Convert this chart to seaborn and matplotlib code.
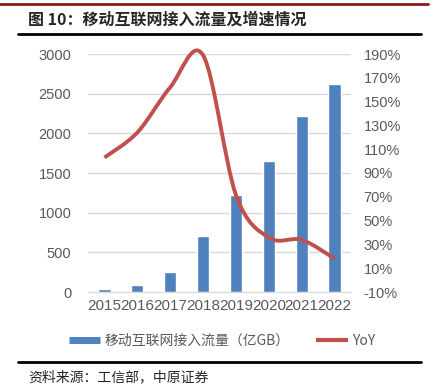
"""
Mobile internet access traffic (亿GB) with YoY growth, 2015-2022.
Bars on the left axis, smoothed YoY line on the right axis.
"""

import numpy as np
import pandas as pd
import matplotlib
matplotlib.use('Agg')
import matplotlib.pyplot as plt
from matplotlib.path import Path
from matplotlib.patches import PathPatch
from matplotlib.lines import Line2D
import seaborn as sns

years = ['2015', '2016', '2017', '2018', '2019', '2020', '2021', '2022']
traffic = [41.9, 93.6, 246, 711, 1220, 1656, 2216, 2618]      # 亿GB
yoy = [103.0, 124.0, 162.0, 189.0, 71.6, 35.7, 33.8, 18.1]    # %

left_ticks = [0, 500, 1000, 1500, 2000, 2500, 3000]
right_ticks = list(range(-10, 191, 20))

BAR_COLOR = '#4F81BD'
LINE_COLOR = '#C0504D'
TICK_COLOR = '#595959'
GRID_COLOR = '#D9D9D9'

sns.set_style('white')
plt.rcParams['font.family'] = ['Liberation Sans', 'Noto Sans CJK SC', 'DejaVu Sans']
CJK = ['Noto Sans CJK SC', 'DejaVu Sans']

df = pd.DataFrame({'year': years, 'traffic': traffic, 'yoy': yoy})

fig = plt.figure(figsize=(4.32, 3.86), dpi=100)
ax = fig.add_axes([88 / 432, 1 - 292 / 386, 263 / 432, 238 / 386])

sns.barplot(data=df, x='year', y='traffic', color=BAR_COLOR, saturation=1,
            width=0.375, ax=ax)
ax.set_ylim(0, 3000)
ax.set_yticks(left_ticks)
ax.set_xlim(-0.5, len(years) - 0.5)
ax.set_xlabel('')
ax.set_ylabel('')
ax.yaxis.grid(True, color=GRID_COLOR, linewidth=1)
ax.set_axisbelow(True)
for s in ['top', 'right', 'left']:
    ax.spines[s].set_visible(False)
ax.spines['bottom'].set_color(GRID_COLOR)
ax.tick_params(axis='both', length=0, colors=TICK_COLOR, labelsize=10.5)
ax.tick_params(axis='x', pad=5, labelsize=11)
ax.tick_params(axis='y', pad=12)

# YoY line, smoothed like a spreadsheet curve (Catmull-Rom as cubic Bezier)
ax2 = ax.twinx()
x = np.arange(len(yoy), dtype=float)
pts = np.column_stack([x, yoy])
ext = np.vstack([pts[0], pts, pts[-1]])
verts = [tuple(pts[0])]
codes = [Path.MOVETO]
for i in range(len(pts) - 1):
    p0, p1, p2, p3 = ext[i], ext[i + 1], ext[i + 2], ext[i + 3]
    verts += [tuple(p1 + (p2 - p0) / 6), tuple(p2 - (p3 - p1) / 6), tuple(p2)]
    codes += [Path.CURVE4] * 3
ax2.add_patch(PathPatch(Path(verts, codes), facecolor='none',
                        edgecolor=LINE_COLOR, linewidth=2.8, clip_on=False))
ax2.set_ylim(-10, 190)
ax2.set_yticks(right_ticks)
ax2.set_yticklabels([f'{t}%' for t in right_ticks])
for s in ax2.spines.values():
    s.set_visible(False)
ax2.tick_params(axis='y', length=0, colors=TICK_COLOR, labelsize=10.5, pad=9)
ax2.grid(False)

# header / footer decoration
fig.add_artist(Line2D([0, 0.99], [0.99, 0.99], color='#8B1A1A', lw=2))
fig.text(28 / 432, 1 - 20 / 386, '图 10：移动互联网接入流量及增速情况',
         fontsize=11.5, fontweight='bold', family=CJK, va='center', ha='left')
fig.add_artist(Line2D([18 / 432, 421 / 432], [1 - 34 / 386] * 2, color='black', lw=2))
fig.add_artist(Line2D([18 / 432, 421 / 432], [1 - 362 / 386] * 2, color='black', lw=2))
fig.text(28 / 432, 1 - 377 / 386, '资料来源：工信部，中原证券',
         fontsize=10, family=CJK, fontweight='light', va='center', ha='left')

handles = [Line2D([], [], color=BAR_COLOR, lw=5, solid_capstyle='butt'),
           Line2D([], [], color=LINE_COLOR, lw=3, solid_capstyle='butt')]
leg = fig.legend(handles, ['移动互联网接入流量（亿GB）', 'YoY'], ncol=2, frameon=False,
                 loc='center', bbox_to_anchor=(222 / 432, 1 - 341 / 386),
                 handlelength=2.3, handletextpad=0.3, columnspacing=1.9,
                 prop={'family': CJK, 'size': 10, 'weight': 'light'})
for t in leg.get_texts():
    t.set_color(TICK_COLOR)

fig.savefig('out.png', dpi=100)
